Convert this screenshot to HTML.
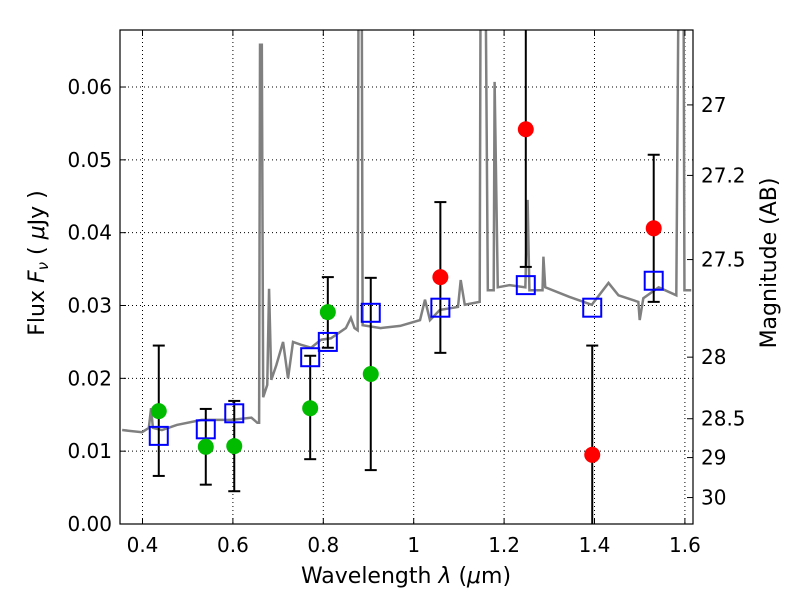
<!DOCTYPE html>
<html><head><meta charset="utf-8"><style>
body{margin:0;background:#fff;width:800px;height:600px;overflow:hidden}
svg text{font-family:"DejaVu Sans","Liberation Sans",sans-serif;fill:#000}
</style></head><body>
<svg id="chart" width="800" height="600"></svg>
<script>
const specLam=[0.355,0.399,0.414,0.419,0.423,0.443,0.476,0.531,0.597,0.641,0.654,0.658,0.660,0.664,0.667,0.676,0.680,0.685,0.696,0.711,0.722,0.733,0.751,0.773,0.795,0.817,0.850,0.861,0.869,0.876,0.878,0.885,0.887,0.927,0.970,1.014,1.025,1.036,1.058,1.098,1.104,1.113,1.146,1.148,1.159,1.164,1.177,1.179,1.186,1.212,1.247,1.252,1.256,1.285,1.287,1.291,1.344,1.394,1.431,1.453,1.497,1.500,1.508,1.542,1.581,1.586,1.597,1.599,1.614];
const specFlux=[0.0129,0.0126,0.0132,0.0159,0.0132,0.0129,0.0136,0.0143,0.0143,0.0146,0.0139,0.0139,0.0658,0.0658,0.0174,0.0191,0.0323,0.0198,0.0218,0.0250,0.0200,0.0250,0.0246,0.0242,0.0253,0.0255,0.0269,0.0283,0.0269,0.0266,0.075,0.075,0.0273,0.0269,0.0272,0.0280,0.0308,0.0280,0.0294,0.0298,0.0335,0.0301,0.0305,0.075,0.075,0.0321,0.0321,0.0607,0.0325,0.0328,0.0325,0.0445,0.0321,0.0321,0.0367,0.0325,0.0312,0.0301,0.0331,0.0314,0.0305,0.0280,0.0310,0.0325,0.0314,0.075,0.075,0.0321,0.0321];
const greenLam=[0.436,0.540,0.603,0.771,0.810,0.905];
const greenFlux=[0.0155,0.0106,0.0107,0.0159,0.0291,0.0206];
const greenHi=[0.0245,0.0158,0.0169,0.0231,0.0339,0.0338];
const greenLo=[0.0066,0.0054,0.0045,0.0089,0.0242,0.0074];
const redLam=[1.059,1.248,1.395,1.531];
const redFlux=[0.0339,0.0542,0.0095,0.0406];
const redHi=[0.0442,0.080,0.0245,0.0507];
const redLo=[0.0235,0.0353,-0.01,0.0305];
const modelLam=[0.436,0.540,0.603,0.771,0.810,0.905,1.059,1.248,1.395,1.531];
const modelFlux=[0.0121,0.0130,0.0152,0.0229,0.0250,0.0290,0.0297,0.0328,0.0297,0.0334];
const xTicks=[0.4,0.6,0.8,1.0,1.2,1.4,1.6];
const xTickLabels=["0.4","0.6","0.8","1","1.2","1.4","1.6"];
const yTicks=[0,0.01,0.02,0.03,0.04,0.05,0.06];
const yTickLabels=["0.00","0.01","0.02","0.03","0.04","0.05","0.06"];
const magTicks=[27,27.2,27.5,28,28.5,29,30];
const magLabels=["27","27.2","27.5","28","28.5","29","30"];

const L=120,R=693,T=30,B=524;
const X=v=>142.5+(v-0.4)*452;
const Y=v=>524-v*7283;
const svg=document.getElementById('chart');
const NS='http://www.w3.org/2000/svg';
function mk(tag,attrs,parent){const e=document.createElementNS(NS,tag);for(const k in attrs)e.setAttribute(k,attrs[k]);(parent||svg).appendChild(e);return e;}
const defs=mk('defs',{});const cp=mk('clipPath',{id:'clip'},defs);mk('rect',{x:L,y:T,width:R-L,height:B-T},cp);

const grid=mk('g',{});
xTicks.forEach(t=>{mk('line',{x1:X(t),x2:X(t),y1:T,y2:B,stroke:'#000','stroke-width':1,'stroke-dasharray':'1,3'},grid);});
yTicks.forEach(t=>{mk('line',{x1:L,x2:R,y1:Y(t),y2:Y(t),stroke:'#000','stroke-width':1,'stroke-dasharray':'1,3'},grid);});

const plot=mk('g',{'clip-path':'url(#clip)'});
const sp=mk('polyline',{points:specLam.map((l,i)=>X(l)+','+Y(specFlux[i])).join(' '),fill:'none',stroke:'#808080','stroke-width':2.5},plot);

function ebars(lam,hi,lo,name){lam.forEach((l,i)=>{const g=mk('g',{},plot);
 mk('line',{x1:X(l),x2:X(l),y1:Y(hi[i]),y2:Y(lo[i]),stroke:'#000','stroke-width':2},g);
 [hi[i],lo[i]].forEach(v=>mk('line',{x1:X(l)-6,x2:X(l)+6,y1:Y(v),y2:Y(v),stroke:'#000','stroke-width':2},g));});}
ebars(greenLam,greenHi,greenLo,'green-errorbar');
ebars(redLam,redHi,redLo,'red-errorbar');
modelLam.forEach((l,i)=>{const r=mk('rect',{x:X(l)-9,y:Y(modelFlux[i])-9,width:18,height:18,fill:'none',stroke:'#0000ff','stroke-width':2},plot);
 });
greenLam.forEach((l,i)=>{const c=mk('circle',{cx:X(l),cy:Y(greenFlux[i]),r:8,fill:'#00bb00'},plot);
 });
redLam.forEach((l,i)=>{const c=mk('circle',{cx:X(l),cy:Y(redFlux[i]),r:8,fill:'#ff0000'},plot);
 });

const fr=mk('rect',{x:L,y:T,width:R-L,height:B-T,fill:'none',stroke:'#000','stroke-width':1.2});

xTicks.forEach((t,i)=>{mk('line',{x1:X(t),x2:X(t),y1:B,y2:B-6,stroke:'#000'});mk('line',{x1:X(t),x2:X(t),y1:T,y2:T+6,stroke:'#000'});
 const tx=mk('text',{x:X(t),y:B+28,'text-anchor':'middle','font-size':20});tx.textContent=xTickLabels[i];
 });
yTicks.forEach((t,i)=>{mk('line',{x1:L,x2:L+6,y1:Y(t),y2:Y(t),stroke:'#000'});
 const tx=mk('text',{x:L-8,y:Y(t)+7,'text-anchor':'end','font-size':20});tx.textContent=yTickLabels[i];
 });
magTicks.forEach((m,i)=>{const f=Math.pow(10,(23.9-m)/2.5);const y=Y(f);
 mk('line',{x1:R,x2:R-6,y1:y,y2:y,stroke:'#000'});
 const tx=mk('text',{x:R+8,y:y+7,'font-size':20});tx.textContent=magLabels[i];
 });
const xl=mk('text',{x:406,y:583,'text-anchor':'middle','font-size':22});
xl.innerHTML='Wavelength  <tspan font-style="italic">λ</tspan> (<tspan font-style="italic">μ</tspan>m)';

const yl=mk('text',{x:0,y:0,'text-anchor':'middle','font-size':22,transform:'translate(44,263) rotate(-90)'});
yl.innerHTML='Flux  <tspan font-style="italic">F</tspan><tspan font-size="15" dy="4" font-style="italic">ν</tspan><tspan dy="-4">  ( <tspan font-style="italic">μ</tspan>Jy )</tspan>';

const ml=mk('text',{x:0,y:0,'text-anchor':'middle','font-size':22,transform:'translate(776,263) rotate(-90)'});ml.textContent='Magnitude (AB)';

</script>
</body></html>
